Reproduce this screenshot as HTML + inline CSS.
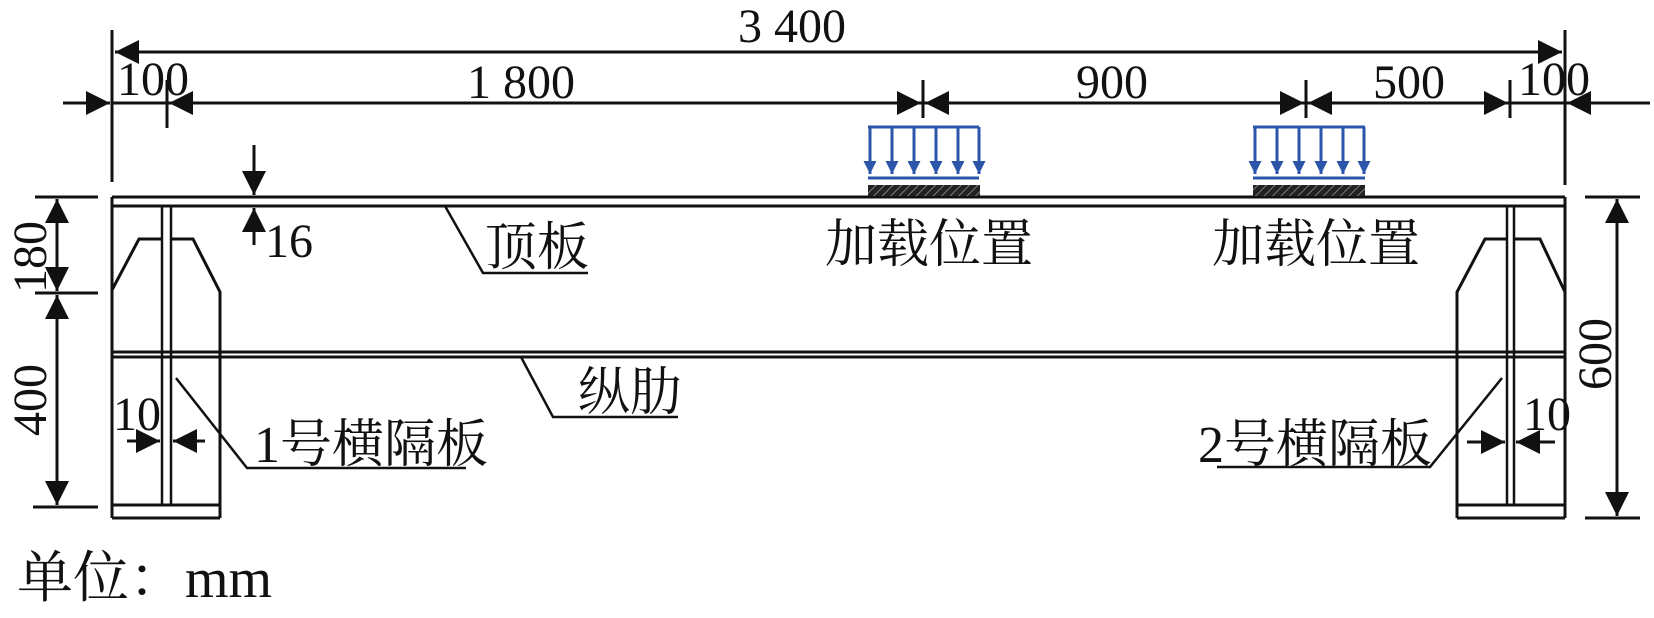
<!DOCTYPE html>
<html><head><meta charset="utf-8"><style>
html,body{margin:0;padding:0;background:#fff;}
svg{display:block}
text{font-family:"Liberation Serif","Noto Serif CJK SC",serif;fill:#111}
.cj{font-family:"Liberation Serif","Noto Serif CJK SC","Noto Sans CJK SC",serif}
</style></head><body>
<svg width="1654" height="618" viewBox="0 0 1654 618" xmlns="http://www.w3.org/2000/svg">
<defs>
<marker id="b" viewBox="0 0 10 10" refX="10" refY="5" markerWidth="28" markerHeight="24" markerUnits="userSpaceOnUse" orient="auto">
<path d="M0,0 L10,5 L0,10 z" fill="#111"/></marker>
<marker id="bl" viewBox="0 0 10 10" refX="10" refY="5" markerWidth="14" markerHeight="13" markerUnits="userSpaceOnUse" orient="auto">
<path d="M0,0 L10,5 L0,10 z" fill="#2b55a8"/></marker>
<pattern id="h" width="6" height="6" patternUnits="userSpaceOnUse" patternTransform="rotate(45)">
<rect width="6" height="6" fill="#222"/><line x1="0" y1="0" x2="0" y2="6" stroke="#999" stroke-width="1.5"/></pattern>
</defs>
<g stroke="#111" stroke-width="3" fill="none">
<line x1="112" y1="197" x2="1565" y2="197"/>
<line x1="112" y1="206" x2="1565" y2="206"/>
<line x1="112" y1="352" x2="1565" y2="352"/>
<line x1="112" y1="357" x2="1565" y2="357"/>
<line x1="112" y1="197" x2="112" y2="518"/>
<line x1="1565" y1="197" x2="1565" y2="518"/>
<polyline points="112,290 139,239 162,239"/>
<polyline points="172,239 193,239 220,292 220,518"/>
<line x1="112" y1="505" x2="220" y2="505"/>
<line x1="112" y1="518" x2="220" y2="518"/>
<line x1="162" y1="206" x2="162" y2="505" stroke-width="2.5"/>
<line x1="171" y1="206" x2="171" y2="505" stroke-width="2.5"/>
<polyline points="1457,518 1457,292 1485,239 1507,239"/>
<polyline points="1513,239 1540,239 1565,292"/>
<line x1="1457" y1="505" x2="1565" y2="505"/>
<line x1="1457" y1="518" x2="1565" y2="518"/>
<line x1="1507" y1="206" x2="1507" y2="505" stroke-width="2.5"/>
<line x1="1514" y1="206" x2="1514" y2="505" stroke-width="2.5"/>
<line x1="112" y1="30" x2="112" y2="182"/>
<line x1="1565" y1="30" x2="1565" y2="185"/>
<line x1="140" y1="52" x2="1540" y2="52"/>
<line x1="1540" y1="52" x2="1562" y2="52" marker-end="url(#b)"/>
<line x1="140" y1="52" x2="115" y2="52" marker-end="url(#b)"/>
<line x1="63" y1="103" x2="110" y2="103" marker-end="url(#b)"/>
<line x1="112" y1="103" x2="1610" y2="103"/>
<line x1="167" y1="80" x2="167" y2="128"/>
<line x1="923" y1="80" x2="923" y2="118"/>
<line x1="1306" y1="80" x2="1306" y2="118"/>
<line x1="1510" y1="80" x2="1510" y2="118"/>
<line x1="1650" y1="103" x2="1567" y2="103" marker-end="url(#b)"/>
<line x1="210" y1="103" x2="169" y2="103" marker-end="url(#b)"/>
<line x1="880" y1="103" x2="921" y2="103" marker-end="url(#b)"/>
<line x1="966" y1="103" x2="925" y2="103" marker-end="url(#b)"/>
<line x1="1263" y1="103" x2="1304" y2="103" marker-end="url(#b)"/>
<line x1="1349" y1="103" x2="1308" y2="103" marker-end="url(#b)"/>
<line x1="1467" y1="103" x2="1508" y2="103" marker-end="url(#b)"/>
<line x1="254" y1="145" x2="254" y2="195" marker-end="url(#b)"/>
<line x1="254" y1="245" x2="254" y2="208" marker-end="url(#b)"/>
<line x1="35" y1="197" x2="98" y2="197"/>
<line x1="35" y1="293" x2="98" y2="293"/>
<line x1="33" y1="507" x2="98" y2="507"/>
<line x1="57" y1="245" x2="57" y2="199" marker-end="url(#b)"/>
<line x1="57" y1="245" x2="57" y2="291" marker-end="url(#b)"/>
<line x1="57" y1="400" x2="57" y2="295" marker-end="url(#b)"/>
<line x1="57" y1="400" x2="57" y2="505" marker-end="url(#b)"/>
<line x1="1585" y1="197" x2="1640" y2="197"/>
<line x1="1585" y1="518" x2="1640" y2="518"/>
<line x1="1617" y1="350" x2="1617" y2="199" marker-end="url(#b)"/>
<line x1="1617" y1="350" x2="1617" y2="516" marker-end="url(#b)"/>
<line x1="127" y1="441" x2="160" y2="441" marker-end="url(#b)"/>
<line x1="205" y1="441" x2="173" y2="441" marker-end="url(#b)"/>
<line x1="1467" y1="442" x2="1505" y2="442" marker-end="url(#b)"/>
<line x1="1555" y1="442" x2="1516" y2="442" marker-end="url(#b)"/>
<polyline points="445,206 483,273 588,273" stroke-width="2.5"/>
<polyline points="521,357 553,417 678,417" stroke-width="2.5"/>
<polyline points="176,378 247,468 466,468" stroke-width="2.5"/>
<polyline points="1217,467 1430,467 1502,378" stroke-width="2.5"/>
</g>
<g stroke="#2b55a8" stroke-width="3" fill="none">
<line x1="868" y1="127" x2="979" y2="127"/>
<line x1="868" y1="178" x2="979" y2="178"/>
<line x1="1253" y1="127" x2="1365" y2="127"/>
<line x1="1253" y1="178" x2="1365" y2="178"/>
<g id="ar">
<line x1="870" y1="127" x2="870" y2="174" marker-end="url(#bl)"/>
<line x1="892" y1="127" x2="892" y2="174" marker-end="url(#bl)"/>
<line x1="914" y1="127" x2="914" y2="174" marker-end="url(#bl)"/>
<line x1="936" y1="127" x2="936" y2="174" marker-end="url(#bl)"/>
<line x1="958" y1="127" x2="958" y2="174" marker-end="url(#bl)"/>
<line x1="979" y1="127" x2="979" y2="174" marker-end="url(#bl)"/>
</g>
<use href="#ar" transform="translate(385,0)"/>
</g>
<rect x="868" y="185" width="112" height="11" fill="url(#h)"/>
<rect x="1253" y="185" width="112" height="11" fill="url(#h)"/>
<g font-size="48">
<text x="738" y="42">3 400</text>
<text x="467" y="98">1 800</text>
<text x="1076" y="98">900</text>
<text x="1373" y="98">500</text>
<text x="117" y="95">100</text>
<text x="1518" y="95">100</text>
<text x="265" y="257">16</text>
<text x="113" y="430">10</text>
<text x="1523" y="430">10</text>
<text transform="translate(46,293) rotate(-90)">180</text>
<text transform="translate(46,436) rotate(-90)">400</text>
<text transform="translate(1611,390) rotate(-90)">600</text>
</g>
<g font-size="52" class="cj">
<text x="485" y="265" class="cj">顶板</text>
<text x="825" y="262" class="cj">加载位置</text>
<text x="1212" y="262" class="cj">加载位置</text>
<text x="578" y="410" class="cj">纵肋</text>
<text x="254" y="462" class="cj">1号横隔板</text>
<text x="1198" y="462" class="cj">2号横隔板</text>
<text x="17" y="597" font-size="56" class="cj">单位：mm</text>
</g>
</svg>
</body></html>
